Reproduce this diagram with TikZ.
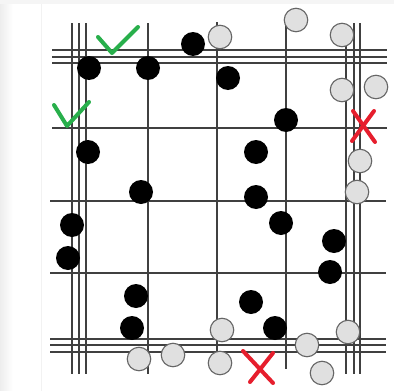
\documentclass[tikz,border=0pt]{standalone}
\begin{document}
\begin{tikzpicture}[x=1pt,y=-1pt,
  gridline/.style={draw=black!75,line width=1.5pt},
  bdot/.style={circle,fill=black,inner sep=0pt,minimum size=24pt},
  gdot/.style={circle,fill=black!12,draw=black!60,line width=1.1pt,inner sep=0pt,minimum size=23.5pt},
  tick/.style={draw={rgb,255:red,40;green,175;blue,75},line width=4pt,line cap=round,line join=round},
  cross/.style={draw={rgb,255:red,230;green,30;blue,45},line width=4pt,line cap=round}]
\useasboundingbox (0,0) rectangle (394,391);
\fill[white] (0,0) rectangle (394,391);
\shade[left color=black!7,right color=white] (0,0) rectangle (13,391);
\fill[black!4] (0,0) rectangle (394,4);
\draw[black!5,line width=1pt] (41,4) -- (41,391);
% horizontal lines
\foreach \y in {50,57,63,128} \draw[gridline] (52,\y) -- (387,\y);
\foreach \y in {201,273,339,345,352} \draw[gridline] (50,\y) -- (386,\y);
% vertical lines
\foreach \x in {72,79,86,148,354,360} \draw[gridline] (\x,23) -- (\x,374);
\draw[gridline] (217,22) -- (217,355);
\draw[gridline] (286,20) -- (286,369);
\draw[gridline] (346,40) -- (346,374);
% black dots
\foreach \p [count=\i] in {(89,68),(148,68),(193,44),(228,78),(286,120),(88,152),(256,152),(141,192),(256,197),(72,225),(281,223),(68,258),(334,241),(330,272),(136,296),(251,302),(132,328),(275,328)}
  \node[bdot] (b\i) at \p {};
% gray dots
\foreach \p [count=\i] in {(220,37),(296,20),(342,35),(342,90),(376,87),(360,161),(357,192),(139,359),(173,355),(222,330),(220,363),(307,345),(322,373),(348,332)}
  \node[gdot] (g\i) at \p {};
% ticks
\draw[tick] (98,37) -- (112,53) -- (138,27);
\draw[tick] (54,105) -- (67,126) -- (89,102);
% crosses
\draw[cross] (353,111) -- (375,142);
\draw[cross] (374,111) -- (352,141);
\draw[cross] (243,351) -- (273,383);
\draw[cross] (273,353) -- (250,382);
\end{tikzpicture}
\end{document}
